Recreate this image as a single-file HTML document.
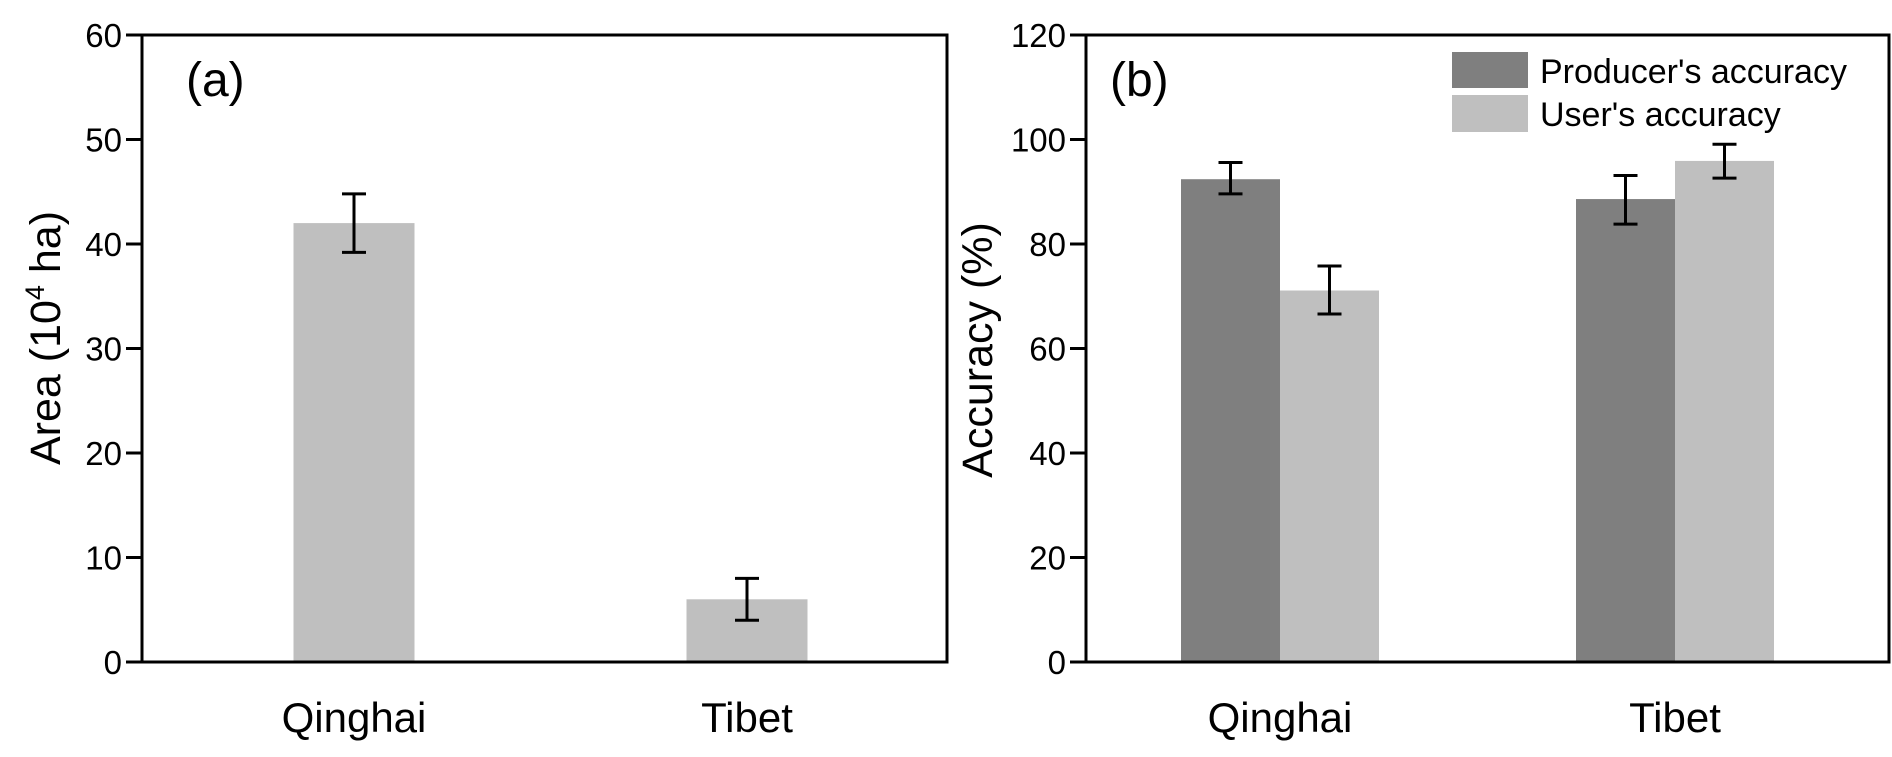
<!DOCTYPE html>
<html><head><meta charset="utf-8"><style>
html,body{margin:0;padding:0;background:#fff;}
svg{display:block;font-family:"Liberation Sans",Arial,sans-serif;}
</style></head><body>
<svg id="chart" width="1892" height="757" viewBox="0 0 1892 757" xmlns="http://www.w3.org/2000/svg"></svg>
<script>
const categories = ["Qinghai", "Tibet"];
const areaValues = [42.0, 6.0];
const areaErrLow = [39.2, 4.0];
const areaErrHigh = [44.8, 8.0];
const areaTicks = [0, 10, 20, 30, 40, 50, 60];
const producerValues = [92.4, 88.6];
const producerErrLow = [89.6, 83.8];
const producerErrHigh = [95.6, 93.1];
const userValues = [71.1, 95.9];
const userErrLow = [66.6, 92.6];
const userErrHigh = [75.8, 99.1];
const accTicks = [0, 20, 40, 60, 80, 100, 120];

const svg = document.getElementById('chart');
const NS = 'http://www.w3.org/2000/svg';
function mk(tag, attrs, parent) {
  const e = document.createElementNS(NS, tag);
  for (const k in attrs) e.setAttribute(k, attrs[k]);
  (parent || svg).appendChild(e);
  return e;
}
const TOP = 35, BOT = 662;

function errBar(g, cx, lo, hi, y) {
  mk('line', {x1: cx, x2: cx, y1: y(lo), y2: y(hi), stroke: '#000', 'stroke-width': 3}, g);
  mk('line', {x1: cx - 12, x2: cx + 12, y1: y(lo), y2: y(lo), stroke: '#000', 'stroke-width': 3}, g);
  mk('line', {x1: cx - 12, x2: cx + 12, y1: y(hi), y2: y(hi), stroke: '#000', 'stroke-width': 3}, g);
}

function axes(g, L, R, ticks, y) {
  ticks.forEach(t => {
    const yy = y(t);
    const tk = mk('line', {x1: L - 16, x2: L, y1: yy, y2: yy, stroke: '#000', 'stroke-width': 3}, g);
    
    
    const tl = mk('text', {x: L - 20, y: yy + 12, 'text-anchor': 'end', 'font-size': 33}, g);
    tl.textContent = t;
    
    
  });
  const box = mk('rect', {x: L, y: TOP, width: R - L, height: BOT - TOP, fill: 'none', stroke: '#000', 'stroke-width': 3}, g);
  
  
}

// Panel A
{
  const g = mk('g', {});
  
  
  const L = 142, R = 947;
  const y = v => BOT - (v / 60) * (BOT - TOP);
  const centers = [354, 747];
  const bw = 121;
  categories.forEach((c, i) => {
    const b = mk('rect', {x: centers[i] - bw / 2, y: y(areaValues[i]), width: bw, height: BOT - y(areaValues[i]), fill: '#bfbfbf'}, g);
    
    
    errBar(g, centers[i], areaErrLow[i], areaErrHigh[i], y);
    const t = mk('text', {x: centers[i], y: 732, 'text-anchor': 'middle', 'font-size': 42}, g);
    t.textContent = c;
    
    
  });
  axes(g, L, R, areaTicks, y);
  const pl = mk('text', {x: 186, y: 96, 'font-size': 48}, g);
  pl.textContent = '(a)';
  
  
  const at = mk('text', {x: 0, y: 0, 'text-anchor': 'middle', 'font-size': 43, transform: 'translate(60,338) rotate(-90)'}, g);
  at.innerHTML = 'Area (10<tspan dy="-16" font-size="27">4</tspan><tspan dy="16"> ha)</tspan>';
  
  
}

// Panel B
{
  const g = mk('g', {});
  
  
  const L = 1086, R = 1889;
  const y = v => BOT - (v / 120) * (BOT - TOP);
  const centers = [1280, 1675];
  const bw = 99;
  categories.forEach((c, i) => {
    const p = mk('rect', {x: centers[i] - bw, y: y(producerValues[i]), width: bw, height: BOT - y(producerValues[i]), fill: '#7f7f7f'}, g);
    
    
    const u = mk('rect', {x: centers[i], y: y(userValues[i]), width: bw, height: BOT - y(userValues[i]), fill: '#bfbfbf'}, g);
    
    
    errBar(g, centers[i] - bw / 2, producerErrLow[i], producerErrHigh[i], y);
    errBar(g, centers[i] + bw / 2, userErrLow[i], userErrHigh[i], y);
    const t = mk('text', {x: centers[i], y: 732, 'text-anchor': 'middle', 'font-size': 42}, g);
    t.textContent = c;
    
    
  });
  axes(g, L, R, accTicks, y);
  const pl = mk('text', {x: 1110, y: 96, 'font-size': 48}, g);
  pl.textContent = '(b)';
  
  
  const at = mk('text', {x: 0, y: 0, 'text-anchor': 'middle', 'font-size': 43, transform: 'translate(992,350) rotate(-90)'}, g);
  at.textContent = 'Accuracy (%)';
  
  
  const lg = mk('g', {}, g);
  
  
  const e1 = mk('rect', {x: 1452, y: 52, width: 76, height: 36, fill: '#7f7f7f'}, lg);
  
  
  const t1 = mk('text', {x: 1540, y: 83, 'font-size': 34}, lg);
  t1.textContent = "Producer's accuracy";
  
  
  const e2 = mk('rect', {x: 1452, y: 95, width: 76, height: 37, fill: '#bfbfbf'}, lg);
  
  
  const t2 = mk('text', {x: 1540, y: 126, 'font-size': 34}, lg);
  t2.textContent = "User's accuracy";
  
  
}
</script>
</body></html>
